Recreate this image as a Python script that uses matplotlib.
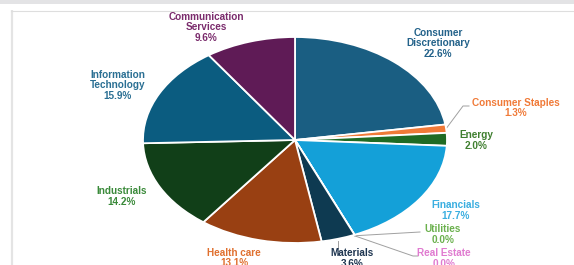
import numpy as np
import matplotlib
matplotlib.use("Agg")
import matplotlib.pyplot as plt

plt.rcParams['font.family'] = ['Liberation Sans', 'DejaVu Sans']

# Sector weights, clockwise from 12 o'clock
sectors = ['Consumer\nDiscretionary', 'Consumer Staples', 'Energy', 'Financials',
           'Utilities', 'Real Estate', 'Materials', 'Health care', 'Industrials',
           'Information\nTechnology', 'Communication\nServices']
weights = [22.6, 1.3, 2.0, 17.7, 0.0, 0.0, 3.6, 13.1, 14.2, 15.9, 9.6]
slice_colors = ['#1a5e82', '#f07a38', '#1f6b24', '#14a0d8', '#6ab04c', '#e07ad0',
                '#0e3a51', '#994012', '#113f18', '#0b5c80', '#5f1b56']
text_colors = ['#23628a', '#f07a38', '#3f7f2f', '#3aaee0', '#6ab04c', '#e07ad0',
               '#1e3550', '#e0702f', '#3a8a3a', '#2a6f93', '#7a2b6c']

# label centres in image pixels (x, y of middle of first line)
label_pos = [(438, 32), (516, 102), (476, 135), (456, 205), (443, 229), (444, 253),
             (352, 253), (234, 252), (122, 191), (118, 74), (206, 16)]

W, H = 574, 265
fig = plt.figure(figsize=(W / 100, H / 100), dpi=100)
fig.patch.set_facecolor('white')

# overlay axes in image pixel coordinates
ov = fig.add_axes([0, 0, 1, 1])
ov.set_xlim(0, W)
ov.set_ylim(H, 0)
ov.axis('off')
ov.add_patch(plt.Rectangle((0, 0), W, 3.5, color='#e3e3e5', lw=0))
ov.plot([12, 12], [10, H], color='#e4e4e4', lw=1.6, solid_capstyle='butt')
ov.plot([11, W], [10.5, 10.5], color='#dedede', lw=0.8)

# pie: centre (295,140), rx 152, ry 103
cx, cy, rx, ry = 295, 140, 152, 103
ax = fig.add_axes([(cx - rx) / W, (H - cy - ry) / H, 2 * rx / W, 2 * ry / H])
ax.pie(weights, colors=slice_colors, startangle=90, counterclock=False,
       wedgeprops=dict(edgecolor='white', linewidth=1.3))
ax.set_aspect('auto')
ax.set_xlim(-1, 1)
ax.set_ylim(-1, 1)
ax.axis('off')

for name, w, c, (x, y) in zip(sectors, weights, text_colors, label_pos):
    ov.text(x, y - 4.5, f"{name}\n{w:.1f}%", color=c, fontsize=7.2, fontweight='bold',
            ha='center', va='top', linespacing=1.12)


def edge_point(frac):
    # point on the pie rim at a cumulative fraction (clockwise from top)
    ang = 2 * np.pi * frac
    p = ax.transData.transform((np.sin(ang), np.cos(ang)))
    return ov.transData.inverted().transform(p)


cum = np.cumsum([0] + weights) / sum(weights)
mid = (cum[:-1] + cum[1:]) / 2

# leader lines
leader = '#a0a0a0'
x0, y0 = edge_point(mid[1])
ov.plot([x0, 463, 469], [y0, 106, 106], color=leader, lw=0.7)
x0, y0 = edge_point(cum[4])
ov.plot([x0, 420], [y0 + 1, 232], color=leader, lw=0.7)
x0, y0 = edge_point(cum[5])
ov.plot([x0, 413, 418], [y0 + 1, 256, 256], color=leader, lw=0.7)
x0, y0 = edge_point(mid[6])
ov.plot([x0, x0], [y0 + 2, 248], color=leader, lw=0.7)

fig.savefig('out.png', dpi=100)
